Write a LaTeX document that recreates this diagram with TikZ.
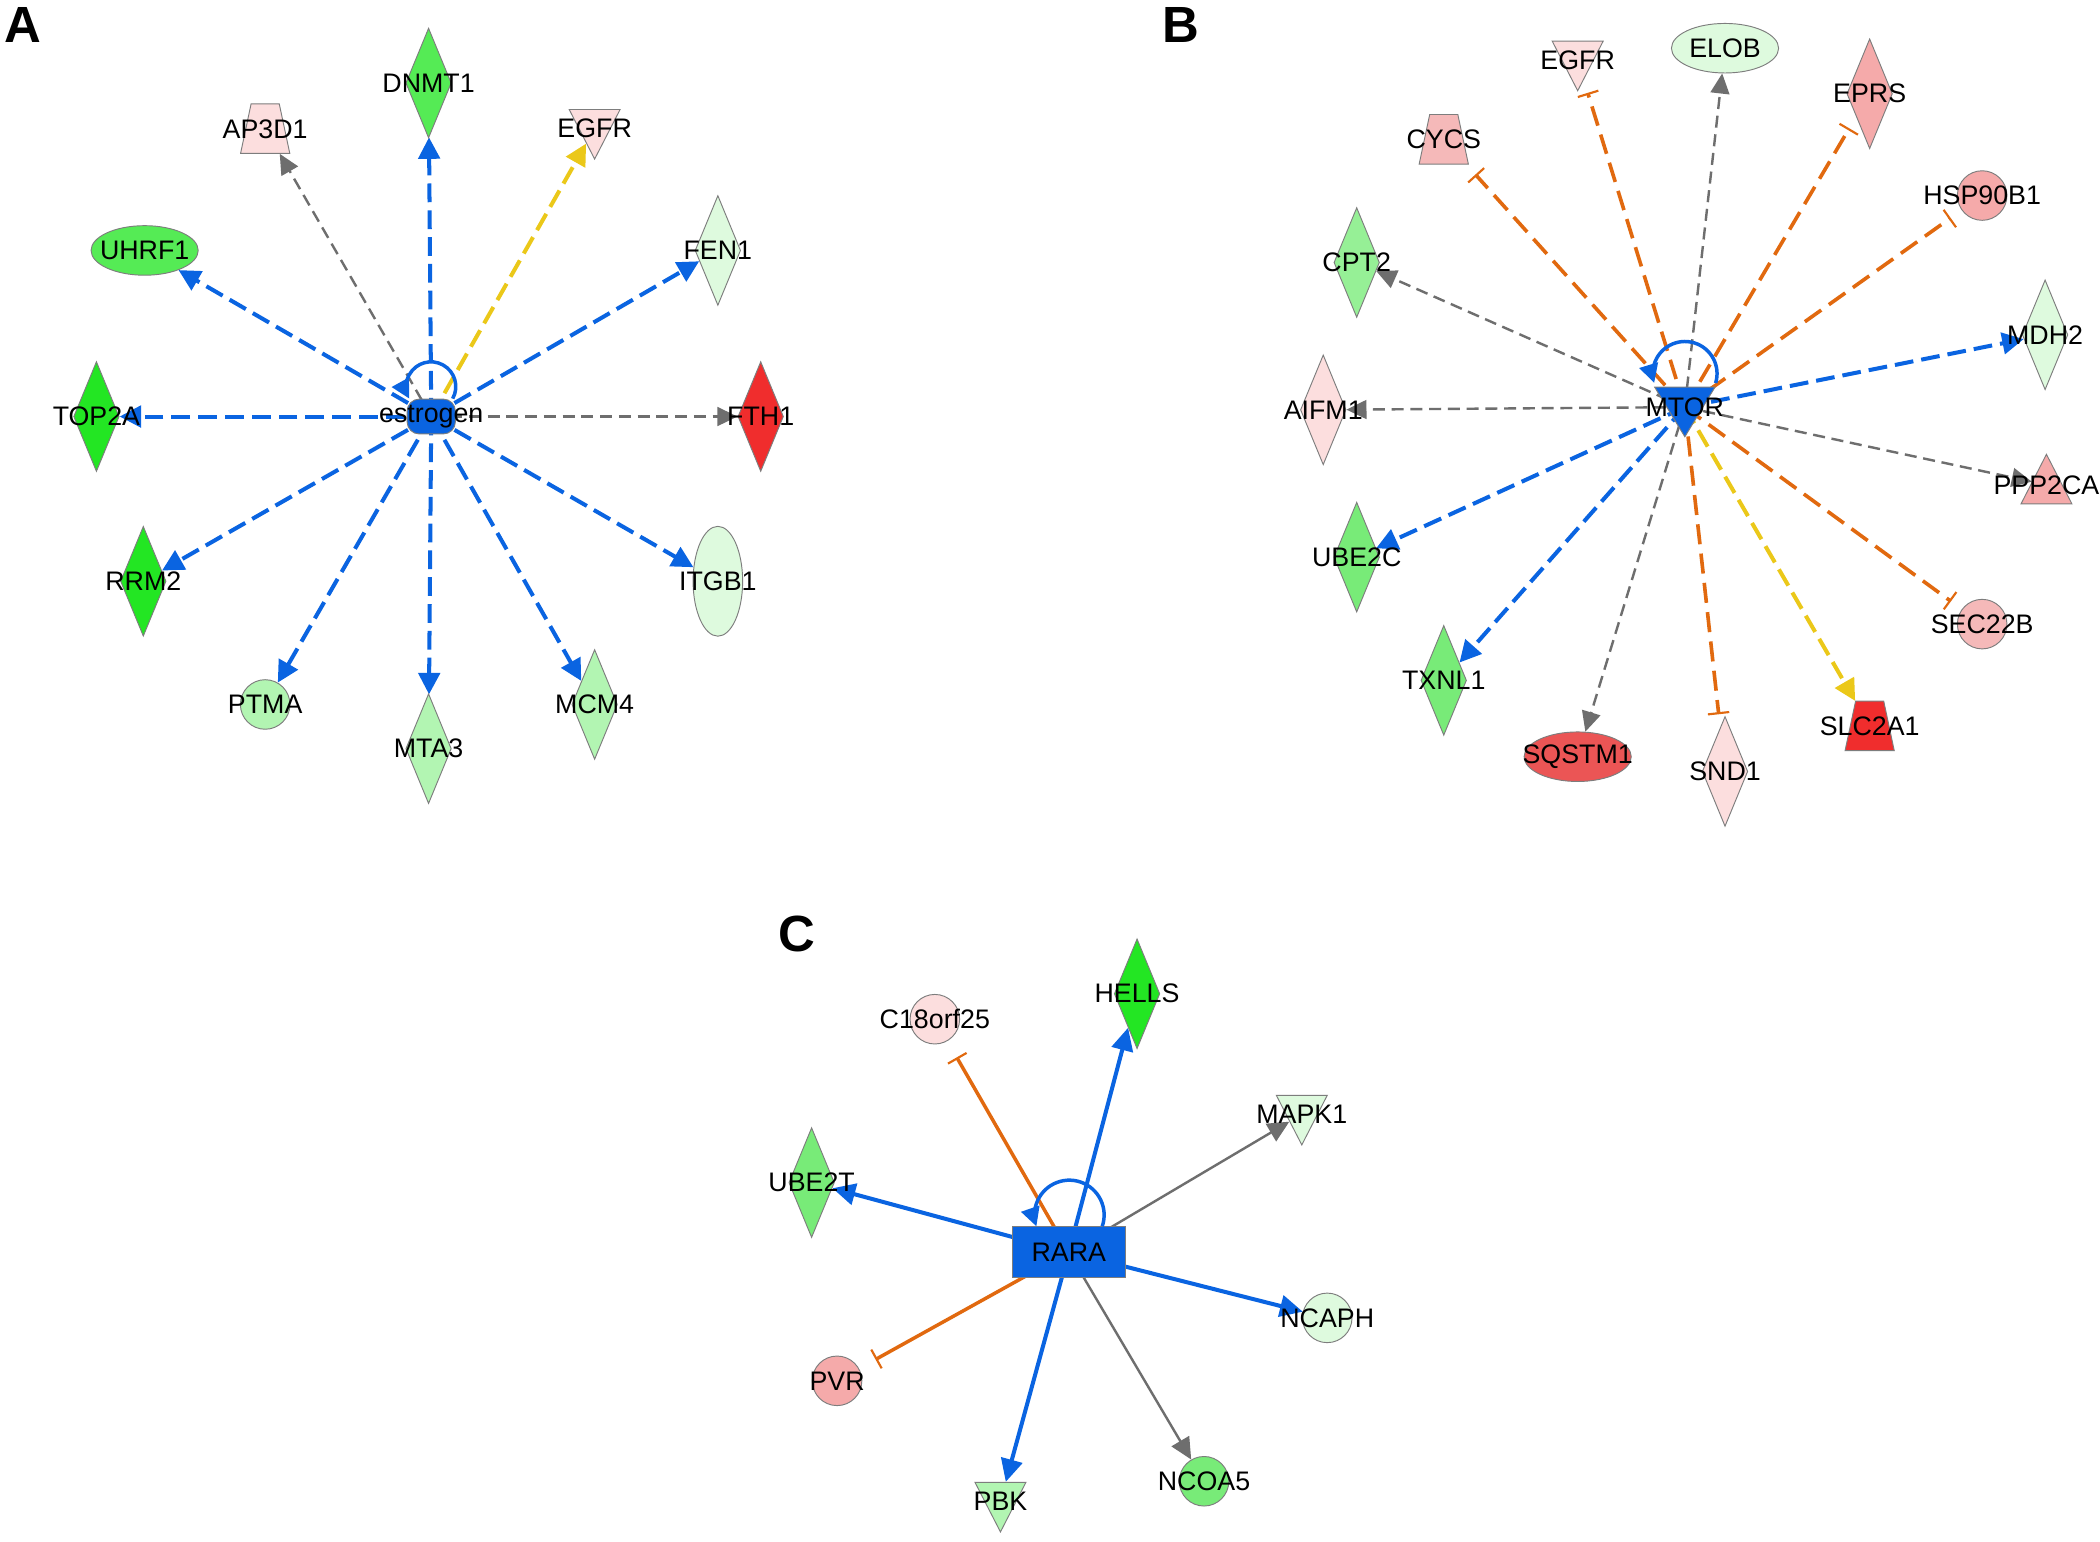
\documentclass[tikz,border=0pt]{standalone}
\usepackage{fontspec}
\setmainfont{Liberation Sans}
\usepackage{tikz}
\usetikzlibrary{shapes.geometric,arrows.meta,backgrounds,calc}
\definecolor{nodeblue}{RGB}{10,100,225}
\definecolor{eblue}{RGB}{10,100,225}
\definecolor{egray}{RGB}{110,110,110}
\definecolor{eyellow}{RGB}{235,200,25}
\definecolor{eorange}{RGB}{225,105,15}
\definecolor{rim}{RGB}{125,125,125}
\definecolor{gA}{RGB}{35,230,35}
\definecolor{gB}{RGB}{85,235,85}
\definecolor{gC}{RGB}{120,235,120}
\definecolor{gD}{RGB}{150,240,150}
\definecolor{gE}{RGB}{178,245,178}
\definecolor{gF}{RGB}{222,250,222}
\definecolor{pA}{RGB}{252,222,222}
\definecolor{pB}{RGB}{245,170,170}
\definecolor{pC}{RGB}{245,185,185}
\definecolor{rA}{RGB}{235,85,85}
\definecolor{rB}{RGB}{240,45,45}
\newcommand{\gname}[1]{\makebox[0pt]{#1}}

\begin{document}
\begin{tikzpicture}[x=1pt,y=-1pt,
  gene/.style={draw=rim,line width=0.7pt,inner sep=0pt,font=\fontsize{20}{23}\selectfont},
  dia/.style={gene,diamond,minimum width=34,minimum height=82},
  oval/.style={gene,ellipse,minimum width=80,minimum height=37},
  voval/.style={gene,ellipse,minimum width=37,minimum height=82},
  circ/.style={gene,circle,minimum size=37},
  vtri/.style={gene,isosceles triangle,isosceles triangle stretches,shape border rotate=270,minimum width=38,minimum height=37},
  utri/.style={gene,isosceles triangle,isosceles triangle stretches,shape border rotate=90,minimum width=38,minimum height=37},
  trap/.style={gene,trapezium,trapezium angle=78,inner xsep=10.5pt,inner ysep=11.35pt,text height=14.3pt,text depth=0pt},
  panel/.style={font=\fontsize{38}{40}\selectfont\bfseries},
  blueedge/.style={eblue,line width=3pt,dash pattern=on 14pt off 6pt,-{Triangle[length=16pt,width=16pt]}},
  yellowedge/.style={eyellow,line width=3pt,dash pattern=on 14pt off 6pt,-{Triangle[length=16pt,width=16pt]}},
  grayedge/.style={egray,line width=1.8pt,dash pattern=on 9pt off 5pt,-{Triangle[length=15pt,width=14pt]}},
  orangeedge/.style={eorange,line width=2.7pt,dash pattern=on 15pt off 7pt,-{Bar[width=16pt,line width=1.6pt]},shorten >=10pt},
  blueline/.style={eblue,line width=3pt,-{Triangle[length=17pt,width=16pt]}},
  grayline/.style={egray,line width=1.8pt,-{Triangle[length=16pt,width=15pt]}},
  orangeline/.style={eorange,line width=2.6pt,-{Bar[width=16pt,line width=1.6pt]},shorten >=14pt},
  selfloop/.style={eblue,line width=2.6pt,-{Triangle[length=14pt,width=14pt]}}]
\useasboundingbox (0,0) rectangle (1568,1151);

% panel A
\node[panel] (labA) at (17,19) {A};
\node[gene,rectangle,rounded corners=9pt,fill=nodeblue,minimum width=36,minimum height=26] (est) at (322,311) {\gname{estrogen}};
\node[dia,fill=gB] (dnmt1) at (320,62) {\gname{DNMT1}};
\node[trap,fill=pA] (ap3d1) at (198,96) {\gname{AP3D1}};
\node[vtri,fill=pA] (egfrA) at (444,96) {\gname{EGFR}};
\node[oval,fill=gB] (uhrf1) at (108,187) {\gname{UHRF1}};
\node[dia,fill=gF] (fen1) at (536,187) {\gname{FEN1}};
\node[dia,fill=gA] (top2a) at (72,311) {\gname{TOP2A}};
\node[dia,fill=rB] (fth1) at (568,311) {\gname{FTH1}};
\node[dia,fill=gA] (rrm2) at (107,434) {\gname{RRM2}};
\node[voval,fill=gF] (itgb1) at (536,434) {\gname{ITGB1}};
\node[circ,fill=gE] (ptma) at (198,526) {\gname{PTMA}};
\node[dia,fill=gE] (mta3) at (320,559) {\gname{MTA3}};
\node[dia,fill=gE] (mcm4) at (444,526) {\gname{MCM4}};

% panel B
\node[panel] (labB) at (882,19) {B};
\node[vtri,fill=nodeblue,minimum width=45,minimum height=37] (mtor) at (1258,304) {\gname{MTOR}};
\node[vtri,fill=pA] (egfrB) at (1178,45) {\gname{EGFR}};
\node[oval,fill=gF] (elob) at (1288,36) {\gname{ELOB}};
\node[dia,fill=pB] (eprs) at (1396,70) {\gname{EPRS}};
\node[trap,fill=pC] (cycs) at (1078,104) {\gname{CYCS}};
\node[circ,fill=pB] (hsp) at (1480,146) {\gname{HSP90B1}};
\node[dia,fill=gD] (cpt2) at (1013,196) {\gname{CPT2}};
\node[dia,fill=gF] (mdh2) at (1527,250) {\gname{MDH2}};
\node[dia,fill=pA] (aifm1) at (988,306) {\gname{AIFM1}};
\node[utri,fill=pB] (ppp2ca) at (1528,362) {\gname{PPP2CA}};
\node[dia,fill=gC] (ube2c) at (1013,416) {\gname{UBE2C}};
\node[circ,fill=pC] (sec22b) at (1480,466) {\gname{SEC22B}};
\node[dia,fill=gC] (txnl1) at (1078,508) {\gname{TXNL1}};
\node[oval,fill=rA] (sqstm1) at (1178,565) {\gname{SQSTM1}};
\node[dia,fill=pA] (snd1) at (1288,576) {\gname{SND1}};
\node[trap,fill=rB] (slc2a1) at (1396,542) {\gname{SLC2A1}};

% panel C
\node[panel] (labC) at (595,697) {C};
\node[gene,rectangle,fill=nodeblue,minimum width=84,minimum height=38] (rara) at (798,935) {RARA};
\node[dia,fill=gA] (hells) at (849,742) {\gname{HELLS}};
\node[circ,fill=pA] (c18) at (698,761) {\gname{C18orf25}};
\node[vtri,fill=gF] (mapk1) at (972,832) {\gname{MAPK1}};
\node[dia,fill=gC] (ube2t) at (606,883) {\gname{UBE2T}};
\node[circ,fill=gF] (ncaph) at (991,984) {\gname{NCAPH}};
\node[circ,fill=pB] (pvr) at (625,1031) {\gname{PVR}};
\node[vtri,fill=gE] (pbk) at (747,1121) {\gname{PBK}};
\node[circ,fill=gC] (ncoa5) at (899,1106) {\gname{NCOA5}};

\begin{scope}[on background layer]
\fill[white] (0,0) rectangle (1568,1151);
\foreach \t in {dnmt1,uhrf1,fen1,top2a,rrm2,itgb1,ptma,mta3,mcm4}
  \draw[blueedge] (est.center) -- (\t);
\foreach \t in {ap3d1,fth1}
  \draw[grayedge] (est.center) -- (\t);
\draw[yellowedge] (est.center) -- (egfrA);

\foreach \t in {egfrB,cycs,eprs,hsp,sec22b,snd1}
  \draw[orangeedge] (mtor.center) -- (\t);
\foreach \t in {elob,cpt2,aifm1,ppp2ca,sqstm1}
  \draw[grayedge] (mtor.center) -- (\t);
\foreach \t in {mdh2,ube2c,txnl1}
  \draw[blueedge] (mtor.center) -- (\t);
\draw[yellowedge] (mtor.center) -- (slc2a1);

\foreach \t in {hells,ube2t,ncaph,pbk}
  \draw[blueline] (rara.center) -- (\t);
\foreach \t in {mapk1,ncoa5}
  \draw[grayline] (rara.center) -- (\t);
\foreach \t in {c18,pvr}
  \draw[orangeline] (rara.center) -- (\t);
\end{scope}

% self loops
\draw[selfloop] (est.north) ++(16,0) arc[start angle=29,end angle=-209,radius=18.5];
\draw[selfloop] ($(mtor.center)+(23,-18)$) arc[start angle=17,end angle=-197,radius=24];
\draw[selfloop] (rara.north) ++(25,0) arc[start angle=19,end angle=-199,radius=26];
\end{tikzpicture}
\end{document}
